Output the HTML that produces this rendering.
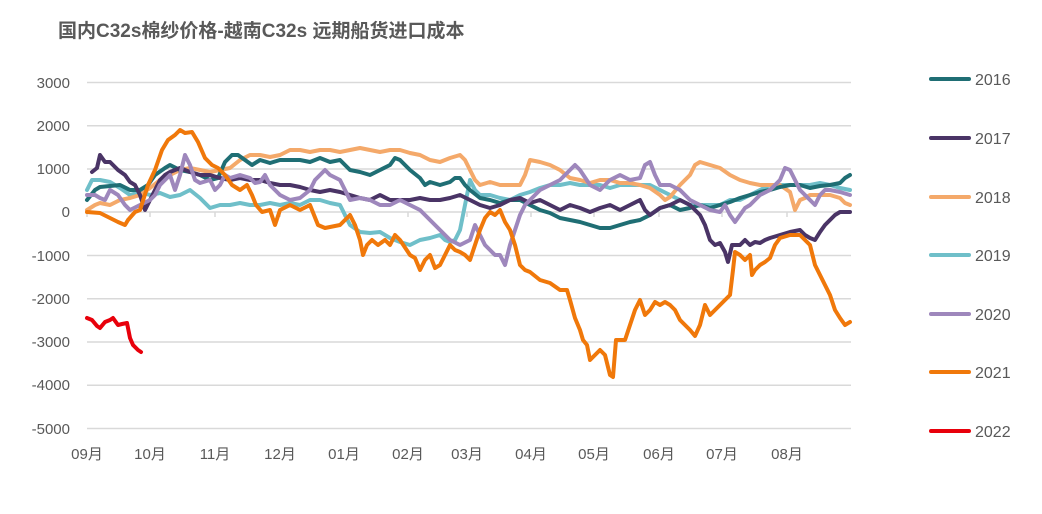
<!DOCTYPE html>
<html><head><meta charset="utf-8"><style>
body{margin:0;background:#fff;}
svg{display:block;font-family:"Liberation Sans","Noto Sans CJK SC",sans-serif;}
</style></head><body>
<svg width="1042" height="514" viewBox="0 0 1042 514">
<text x="58" y="37" font-size="19" font-weight="bold" fill="#595959">国内C32s棉纱价格-越南C32s 远期船货进口成本</text>
<g stroke="#d9d9d9" stroke-width="1.5">
<line x1="87" y1="82.5" x2="851" y2="82.5"/><line x1="87" y1="125.8" x2="851" y2="125.8"/><line x1="87" y1="169" x2="851" y2="169"/>
<line x1="87" y1="255.5" x2="851" y2="255.5"/><line x1="87" y1="298.8" x2="851" y2="298.8"/><line x1="87" y1="342" x2="851" y2="342"/><line x1="87" y1="385.3" x2="851" y2="385.3"/><line x1="87" y1="428.5" x2="851" y2="428.5"/>
<line x1="87" y1="212" x2="851" y2="212"/>
<line x1="87" y1="212" x2="87" y2="217"/><line x1="150" y1="212" x2="150" y2="217"/><line x1="215" y1="212" x2="215" y2="217"/><line x1="280" y1="212" x2="280" y2="217"/><line x1="344" y1="212" x2="344" y2="217"/><line x1="408" y1="212" x2="408" y2="217"/><line x1="467" y1="212" x2="467" y2="217"/><line x1="531" y1="212" x2="531" y2="217"/><line x1="594" y1="212" x2="594" y2="217"/><line x1="659" y1="212" x2="659" y2="217"/><line x1="722" y1="212" x2="722" y2="217"/><line x1="787" y1="212" x2="787" y2="217"/>
</g>
<g font-size="15" fill="#595959" text-anchor="end">
<text x="70" y="88">3000</text><text x="70" y="131">2000</text><text x="70" y="174">1000</text><text x="70" y="217">0</text><text x="70" y="261">-1000</text><text x="70" y="304">-2000</text><text x="70" y="347">-3000</text><text x="70" y="390">-4000</text><text x="70" y="434">-5000</text>
</g>
<g font-size="15" fill="#595959" text-anchor="middle">
<text x="87" y="459">09月</text><text x="150" y="459">10月</text><text x="215" y="459">11月</text><text x="280" y="459">12月</text><text x="344" y="459">01月</text><text x="408" y="459">02月</text><text x="467" y="459">03月</text><text x="531" y="459">04月</text><text x="594" y="459">05月</text><text x="659" y="459">06月</text><text x="722" y="459">07月</text><text x="787" y="459">08月</text>
</g>
<g fill="none" stroke-width="4" stroke-linejoin="round" stroke-linecap="round">
<polyline stroke="#6FBFC9" points="87,190 92,180 100,180 110,182 120,188 130,195 140,192 150,195 160,193 170,197 180,195 190,190 200,198 210,208 220,205 230,205 240,203 250,205 260,205 270,203 280,205 290,203 300,205 310,200 320,200 330,203 340,205 345,215 350,225 360,232 370,233 380,232 390,238 400,242 410,245 420,240 430,238 440,235 445,240 450,242 455,240 460,230 465,205 470,180 475,190 480,195 490,195 500,198 510,200 520,195 530,192 540,188 550,185 560,185 570,183 580,185 590,185 600,185 610,188 620,185 630,185 640,185 650,185 660,190 670,195 680,200 690,205 700,205 710,205 720,205 730,200 740,200 750,195 760,190 770,185 780,185 790,185 800,185 810,185 820,183 830,185 840,188 850,190"/>
<polyline stroke="#F4A96A" points="87,210 95,205 100,203 110,205 120,200 130,198 140,195 150,188 160,180 170,175 180,170 190,168 200,170 210,172 220,170 230,168 240,160 250,155 260,155 270,157 280,155 290,150 300,150 310,152 320,150 330,150 340,152 350,150 360,148 370,150 380,152 390,150 400,150 410,153 420,155 430,160 440,162 450,158 460,155 465,160 470,170 475,180 480,185 490,182 500,185 510,185 520,185 525,175 530,160 540,162 550,165 560,170 570,178 580,180 590,183 600,180 610,180 620,183 630,183 640,185 650,188 660,195 665,200 670,197 680,185 690,175 695,165 700,162 710,165 720,168 730,175 740,180 750,183 760,185 770,185 780,185 790,192 795,210 800,200 805,198 810,195 820,195 830,195 840,198 845,203 850,205"/>
<polyline stroke="#1F6E74" points="87,200 95,190 100,187 110,186 120,185 130,190 140,190 148,185 155,175 165,168 170,165 180,170 190,172 200,175 210,180 218,178 225,162 232,155 238,155 245,160 252,165 260,160 270,163 280,160 290,160 300,160 310,162 320,158 330,162 340,160 350,170 360,172 370,175 380,170 390,165 395,158 400,160 405,165 410,170 420,178 425,185 430,182 440,185 450,182 455,178 460,178 465,185 470,190 480,198 490,200 500,203 510,200 520,200 530,205 540,210 550,213 560,218 570,220 580,222 590,225 600,228 610,228 620,225 630,222 640,220 650,215 660,208 670,205 680,210 690,208 700,205 710,208 720,205 730,202 740,198 750,195 760,192 770,190 780,187 790,185 800,185 810,188 820,186 830,185 840,183 845,178 850,175"/>
<polyline stroke="#4A3466" points="92,172 97,168 100,155 105,162 110,162 118,170 125,175 130,182 135,185 140,195 145,210 150,200 155,190 160,180 165,175 170,172 180,168 190,172 200,175 210,175 220,178 230,180 240,178 250,180 260,180 270,183 280,185 290,185 300,187 310,190 320,192 330,190 340,192 350,195 360,198 370,200 380,195 390,200 400,200 410,200 420,198 430,200 440,200 450,198 460,195 470,200 480,205 490,208 500,205 510,200 520,198 530,203 540,200 550,205 560,210 570,205 580,208 590,212 600,208 610,205 620,210 630,205 640,200 645,210 650,215 660,208 670,205 680,200 690,205 700,215 705,225 710,240 715,245 720,243 725,252 728,262 732,245 740,245 745,240 750,245 755,242 760,243 765,240 770,238 780,235 790,232 800,230 805,235 810,238 815,240 820,232 825,225 830,220 835,215 840,212 850,212"/>
<polyline stroke="#9E87BC" points="87,195 95,195 100,198 105,200 110,190 118,195 125,205 130,210 140,205 150,200 155,195 160,185 165,180 170,175 175,190 180,175 185,155 190,165 195,180 200,183 210,180 215,190 220,185 225,175 230,178 240,175 250,178 255,183 260,182 265,175 270,185 280,195 290,200 300,198 310,190 315,180 320,175 325,170 330,175 340,180 345,190 350,200 360,198 370,200 380,205 390,205 400,200 410,205 420,210 430,220 440,230 450,240 460,245 470,240 475,225 480,235 485,245 490,250 495,255 500,255 505,265 510,245 515,230 520,215 525,205 530,200 540,190 550,185 560,180 570,170 575,165 580,170 590,185 600,190 610,180 620,175 630,180 640,178 645,165 650,162 655,175 660,185 670,185 680,190 690,200 700,205 710,210 720,212 725,205 730,215 735,222 740,215 745,208 750,205 755,200 760,195 770,190 780,180 785,168 790,170 795,180 800,190 810,200 815,205 820,195 825,190 830,190 840,192 850,195"/>
<polyline stroke="#F0780A" points="87,212 100,213 110,218 118,222 125,225 128,220 135,212 140,210 148,185 155,170 162,150 168,140 175,135 180,130 185,133 192,132 198,142 205,158 212,165 218,168 225,175 232,185 240,190 247,185 252,195 256,205 262,212 270,210 275,225 280,210 290,205 300,210 310,205 318,225 325,228 340,225 350,215 355,225 360,240 363,255 367,245 372,240 378,245 385,240 390,245 395,235 400,240 410,255 415,258 420,270 425,260 430,255 435,268 440,265 445,255 450,245 455,250 460,252 465,255 470,260 475,245 480,230 485,218 490,212 495,215 500,210 505,222 510,230 515,245 520,265 525,270 530,272 540,280 550,283 560,290 567,290 570,300 575,318 580,330 583,340 587,345 590,360 595,355 600,350 605,355 610,375 613,377 616,340 620,340 625,340 630,325 635,310 640,300 645,315 650,310 655,302 660,305 665,302 670,305 675,310 680,320 685,325 690,330 695,336 700,325 705,305 710,315 715,310 720,305 725,300 730,295 733,270 735,252 740,255 745,260 750,255 752,275 755,270 760,265 765,262 770,258 775,245 780,238 790,235 800,235 805,240 810,245 815,265 820,275 825,285 830,295 835,310 840,318 845,325 850,322"/>
<polyline stroke="#E8000B" points="87,318 92,320 97,326 100,328 105,322 110,320 113,318 118,325 122,324 127,323 130,338 133,345 138,350 141,352"/>
</g>
<g stroke-width="4" stroke-linecap="round">
<line x1="931" y1="79" x2="969" y2="79" stroke="#1F6E74"/>
<line x1="931" y1="138" x2="969" y2="138" stroke="#4A3466"/>
<line x1="931" y1="197" x2="969" y2="197" stroke="#F4A96A"/>
<line x1="931" y1="255" x2="969" y2="255" stroke="#6FBFC9"/>
<line x1="931" y1="314" x2="969" y2="314" stroke="#9E87BC"/>
<line x1="931" y1="372" x2="969" y2="372" stroke="#F0780A"/>
<line x1="931" y1="431" x2="969" y2="431" stroke="#E8000B"/>
</g>
<g font-size="16" fill="#595959">
<text x="975" y="85">2016</text><text x="975" y="144">2017</text><text x="975" y="203">2018</text><text x="975" y="261">2019</text><text x="975" y="320">2020</text><text x="975" y="378">2021</text><text x="975" y="437">2022</text>
</g>
</svg>
</body></html>
